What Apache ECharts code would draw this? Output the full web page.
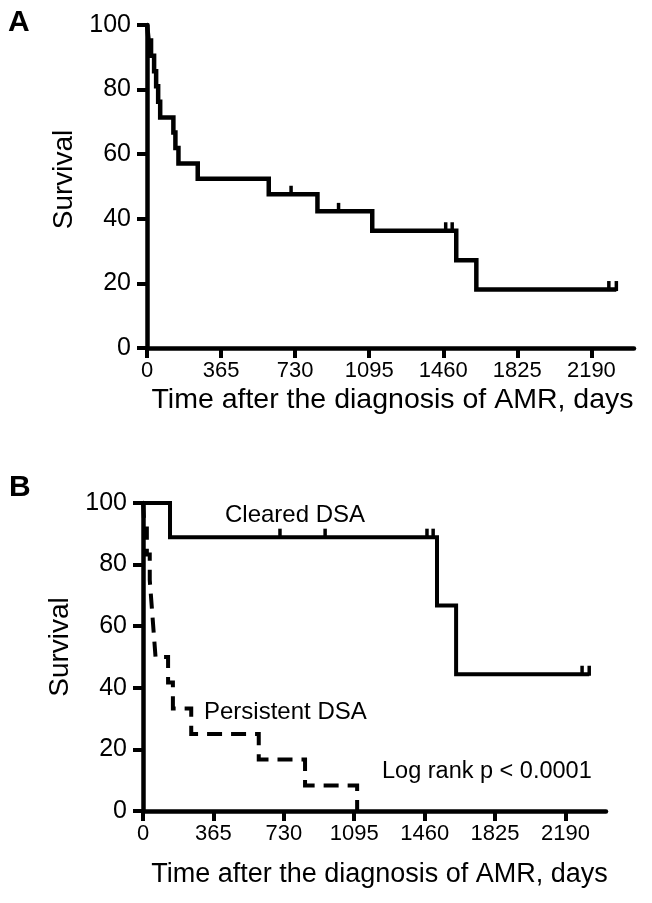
<!DOCTYPE html>
<html><head><meta charset="utf-8">
<script src="https://cdn.jsdelivr.net/npm/echarts@6/dist/echarts.min.js"></script>
<style>html,body{margin:0;padding:0;background:#fff}#c{width:652px;height:903px}</style>
</head><body><div id="c"></div>
<script>
// ---- data ----
const xTickValues = [0, 365, 730, 1095, 1460, 1825, 2190];
const yTickValues = [0, 20, 40, 60, 80, 100];

// Panel A: all patients (Kaplan-Meier)
const timesA = [0, 8, 20, 35, 45, 55, 65, 130, 140, 155, 250, 600, 840, 1110, 1524, 1623, 2313];
const survA  = [100, 95.2, 90.5, 85.7, 81.0, 76.2, 71.4, 66.7, 61.9, 57.1, 52.4, 47.6, 42.3, 36.3, 27.2, 18.1, 18.1];
const censorTimesA = [710, 944, 1472, 1504, 2276, 2313];
const censorSurvA  = [47.6, 42.3, 36.3, 36.3, 18.1, 18.1];

// Panel B: cleared DSA
const timesCleared = [0, 140, 1524, 1623, 2313];
const survCleared  = [100, 88.9, 66.7, 44.4, 44.4];
const censorTimesCleared = [710, 944, 1472, 1504, 2276, 2313];
const censorSurvCleared  = [88.9, 88.9, 88.9, 88.9, 44.4, 44.4];

// Panel B: persistent DSA
const timesPersistent = [0, 8, 20, 35, 45, 55, 65, 130, 155, 250, 600, 840, 1110];
const survPersistent  = [100, 91.7, 83.3, 75.0, 66.7, 58.3, 50.0, 41.7, 33.3, 25.0, 16.7, 8.3, 0];

const xTitle = 'Time after the diagnosis of AMR, days';
const yTitle = 'Survival';

// ---- build ----
const FONT = '"Liberation Sans", Arial, sans-serif';
const zip = (a, b) => a.map((v, i) => [v, b[i]]);

function xAxisFor(gi, lw, nameGap, nameSize, padLeft) {
  return {
    type: 'value', gridIndex: gi, min: 0, max: 2400,
    name: xTitle, nameLocation: 'middle', nameGap: nameGap,
    nameTextStyle: { fontFamily: FONT, fontSize: nameSize, color: '#000', padding: [0, 0, 0, padLeft] },
    axisLine: { show: true, onZero: false, lineStyle: { color: '#000', width: lw } },
    axisTick: { show: true, length: 10, lineStyle: { color: '#000', width: 4 }, customValues: xTickValues },
    axisLabel: { fontFamily: FONT, fontSize: 22, color: '#000', margin: 12, customValues: xTickValues,
                 formatter: v => String(v) },
    splitLine: { show: false }
  };
}
function yAxisFor(gi, lw, nameGap, padLeft) {
  return {
    type: 'value', gridIndex: gi, min: 0, max: 100, interval: 20,
    name: yTitle, nameLocation: 'middle', nameGap: nameGap,
    nameTextStyle: { fontFamily: FONT, fontSize: 28, color: '#000', padding: [0, 0, 0, padLeft] },
    axisLine: { show: true, onZero: false, lineStyle: { color: '#000', width: lw } },
    axisTick: { show: true, length: 10, lineStyle: { color: '#000', width: 4 } },
    axisLabel: { fontFamily: FONT, fontSize: 25, color: '#000', margin: 16 },
    splitLine: { show: false }
  };
}
function stepLine(xi, data, width, type) {
  return {
    type: 'line', xAxisIndex: xi, yAxisIndex: xi, step: 'end', data: data,
    symbol: 'none', silent: true, clip: false, z: 3,
    lineStyle: { color: '#000', width: width, type: type || 'solid', cap: 'butt', join: 'miter', opacity: 1 }
  };
}
function censors(xi, data) {
  return {
    type: 'scatter', xAxisIndex: xi, yAxisIndex: xi, data: data, silent: true, clip: false, z: 4,
    symbol: 'rect', symbolSize: [3.5, 10], symbolOffset: [0, -3.5],
    itemStyle: { color: '#000', opacity: 1 }
  };
}

const chart = echarts.init(document.getElementById('c'), null, { renderer: 'canvas' });
chart.setOption({
  animation: false,
  backgroundColor: '#fff',
  grid: [
    { left: 147, top: 25, width: 487, height: 323 },
    { left: 143, top: 503, width: 463, height: 308 }
  ],
  xAxis: [xAxisFor(0, 4.5, 38, 28.5, 4), xAxisFor(1, 4.5, 50, 27, 10)],
  yAxis: [yAxisFor(0, 4.5, 61, 14), yAxisFor(1, 4.5, 60, 20)],
  series: [
    stepLine(0, zip(timesA, survA), 4.5),
    censors(0, zip(censorTimesA, censorSurvA)),
    stepLine(1, zip(timesCleared, survCleared), 4),
    censors(1, zip(censorTimesCleared, censorSurvCleared)),
    stepLine(1, zip(timesPersistent, survPersistent), 4, [15, 9])
  ],
  graphic: [
    { type: 'text', left: 8, top: 8, style: { text: 'A', font: 'bold 30px ' + FONT, fill: '#000' } },
    { type: 'text', left: 9, top: 473, style: { text: 'B', font: 'bold 30px ' + FONT, fill: '#000' } },
    { type: 'text', left: 225, top: 503, style: { text: 'Cleared DSA', font: '24px ' + FONT, fill: '#000' } },
    { type: 'text', left: 204, top: 700, style: { text: 'Persistent DSA', font: '24px ' + FONT, fill: '#000' } },
    { type: 'text', left: 382, top: 760, style: { text: 'Log rank p < 0.0001', font: '23.5px ' + FONT, fill: '#000' } }
  ]
});
</script>
</body></html>
